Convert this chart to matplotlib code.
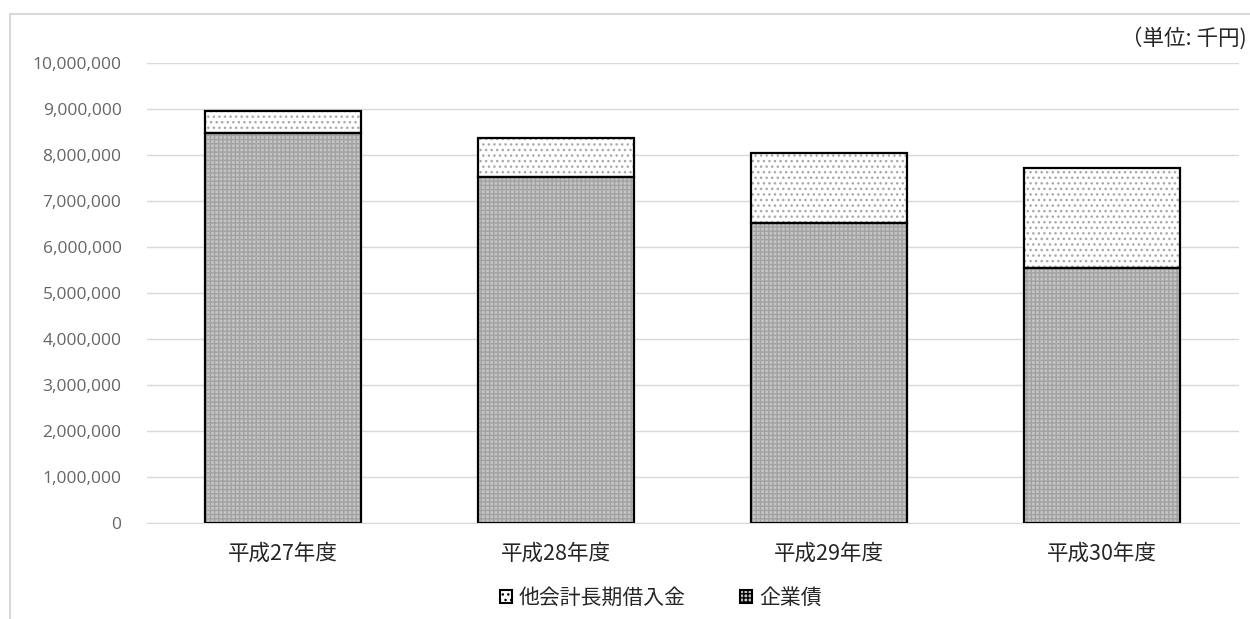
import matplotlib
matplotlib.use("Agg")
import matplotlib.pyplot as plt
from matplotlib.patches import Rectangle, Patch
from matplotlib.ticker import FuncFormatter

plt.rcParams['font.family'] = ['Noto Sans CJK JP', 'DejaVu Sans']
plt.rcParams['hatch.linewidth'] = 1.0

categories = ['平成27年度', '平成28年度', '平成29年度', '平成30年度']
kigyousai = [8480000, 7520000, 6520000, 5540000]          # 企業債
takaikei = [480000, 850000, 1520000, 2180000]            # 他会計長期借入金
series_names = ['他会計長期借入金', '企業債']
yticks = list(range(0, 10000001, 1000000))

fig = plt.figure(figsize=(12.5, 6.19), dpi=100)
# outer chart frame
fig.patches.append(Rectangle((10/1250, -0.2), 1.2, 1.2 - 14/619, transform=fig.transFigure,
                             fill=False, edgecolor='#d9d9d9', lw=1.5))
ax = fig.add_axes([146.5/1250, 1 - 523/619, 1092/1250, (523 - 63)/619])

x = range(len(categories))
w = 0.57
bottom_color = '#c4c4c4'
# fills with hatch patterns
ax.bar(x, kigyousai, w, color=bottom_color, edgecolor='#a2a2a2', hatch='++++', lw=0, zorder=2)
ax.bar(x, takaikei, w, bottom=kigyousai, color='white', edgecolor='#a8a8a8', hatch='...', lw=0, zorder=2)
# outlines
ax.bar(x, kigyousai, w, fill=False, edgecolor='black', lw=1.6, zorder=3)
ax.bar(x, takaikei, w, bottom=kigyousai, fill=False, edgecolor='black', lw=1.6, zorder=3)

ax.set_xlim(-0.5, len(categories) - 0.5)
ax.set_ylim(0, 10000000)
ax.set_yticks(yticks)
ax.yaxis.set_major_formatter(FuncFormatter(lambda v, p: f'{int(v):,}'))
ax.grid(axis='y', color='#d9d9d9', lw=1, zorder=0)
ax.set_axisbelow(True)
for s in ['top', 'right', 'left']:
    ax.spines[s].set_visible(False)
ax.spines['bottom'].set_color('#d9d9d9')
ax.tick_params(axis='y', length=0, pad=18, labelsize=12.5, labelcolor='#666666')
ax.tick_params(axis='x', length=0, pad=14, labelsize=15.5, labelcolor='#262626')
ax.set_xticks(list(x))
ax.set_xticklabels(categories)
for lbl in ax.get_yticklabels():
    lbl.set_fontfamily(['Open Sans', 'DejaVu Sans'])

fig.text(1247/1250, 1 - 38/619, '（単位: 千円)', ha='right', va='center', fontsize=15.5, color='#262626')

handles = [Patch(facecolor='white', edgecolor='black', hatch='...', lw=1.5),
           Patch(facecolor=bottom_color, edgecolor='black', hatch='++++', lw=1.5)]
fig.legend(handles, series_names, loc='center', bbox_to_anchor=(661/1250, 1 - 598/619),
           ncol=2, frameon=False, fontsize=15, handlelength=0.55, handleheight=0.55,
           handletextpad=0.35, columnspacing=2.6, labelcolor='#262626')

fig.savefig('out.png', dpi=100)
